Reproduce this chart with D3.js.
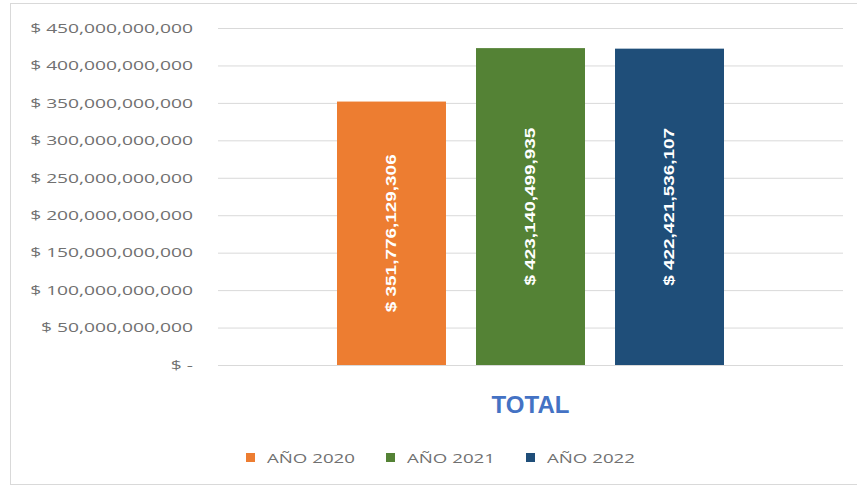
<!DOCTYPE html>
<html>
<head>
<meta charset="utf-8">
<script src="https://cdn.jsdelivr.net/npm/d3@7"></script>
<style>
  html, body { margin: 0; padding: 0; background: #ffffff; }
  svg { display: block; }
</style>
</head>
<body>
<svg id="chart" width="857" height="487"></svg>
<script>
// Chart data
const categories = ["TOTAL"];
const seriesNames = ["AÑO 2020", "AÑO 2021", "AÑO 2022"];
const seriesValues = [351776129306, 423140499935, 422421536107];
const seriesColors = ["#ED7D31", "#548235", "#1F4E79"];
const yTicks = [0, 50e9, 100e9, 150e9, 200e9, 250e9, 300e9, 350e9, 400e9, 450e9];

const svg = d3.select("#chart");
const W = 857, H = 487;
const plot = { left: 218, right: 843, top: 28, bottom: 365 };

// Chart area frame
svg.append("rect")
  .attr("x", 10.5).attr("y", 3.5)
  .attr("width", W).attr("height", 481)
  .attr("fill", "#ffffff")
  .attr("stroke", "#D9D9D9").attr("stroke-width", 1);

const y = d3.scaleLinear().domain([0, 450e9]).range([plot.bottom, plot.top]);
const x = d3.scaleBand().domain(categories).range([plot.left, plot.right])
  .paddingInner(0).paddingOuter(0.3075);
const xs = d3.scaleBand().domain(seriesNames).range([0, x.bandwidth()])
  .paddingInner(0.216).paddingOuter(0);

const money = d3.format(",");
const tickFmt = v => v === 0 ? "$ -" : "$ " + money(v);

// Gridlines and value axis labels
const yAxis = d3.axisLeft(y).tickValues(yTicks)
  .tickSize(-(plot.right - plot.left)).tickFormat(tickFmt).tickPadding(25);
const gAxis = svg.append("g").attr("transform", `translate(${plot.left},0)`).call(yAxis);
gAxis.select(".domain").remove();
gAxis.selectAll(".tick line").attr("stroke", "#D9D9D9").attr("stroke-width", 1);
gAxis.selectAll(".tick text")
  .attr("fill", "#707070")
  .style("font-family", "'Open Sans', 'Liberation Sans', sans-serif")
  .style("font-size", "13.5px");

// Widen tick labels horizontally to the chart's letterform proportions
(function () {
  const texts = gAxis.selectAll(".tick text").nodes();
  const widest = d3.max(texts, n => n.getComputedTextLength());
  const sx = 163 / widest;
  texts.forEach(n => {
    const t = d3.select(n);
    const tx = +t.attr("x");
    t.attr("x", null).attr("transform", `translate(${tx},0) scale(${sx},1)`);
  });
})();

// Bars
const data = seriesNames.map((s, i) => ({ series: s, value: seriesValues[i], color: seriesColors[i] }));
const gBars = svg.append("g").attr("transform", `translate(${x("TOTAL")},0)`);
gBars.selectAll("rect").data(data).join("rect")
  .attr("x", d => xs(d.series))
  .attr("y", d => y(d.value))
  .attr("width", xs.bandwidth())
  .attr("height", d => y(0) - y(d.value))
  .attr("fill", d => d.color);

// Value labels, rotated, centered in each bar
const labels = gBars.selectAll("text.val").data(data).join("text")
  .attr("class", "val")
  .attr("text-anchor", "middle")
  .attr("dominant-baseline", "central")
  .attr("fill", "#ffffff")
  .style("font-family", "'Liberation Sans', Arial, sans-serif")
  .style("font-weight", "bold")
  .style("font-size", "15px")
  .text(d => "$ " + money(d.value));
labels.each(function (d) {
  const len = this.getComputedTextLength();
  const sx = 158 / len;
  const cx = xs(d.series) + xs.bandwidth() / 2;
  const cy = (y(d.value) + y(0)) / 2;
  d3.select(this).attr("transform", `translate(${cx},${cy}) rotate(-90) scale(${sx},1)`);
});

// Category title
svg.append("text")
  .attr("x", x("TOTAL") + x.bandwidth() / 2)
  .attr("y", 413)
  .attr("text-anchor", "middle")
  .attr("fill", "#4472C4")
  .style("font-family", "'Liberation Sans', Arial, sans-serif")
  .style("font-weight", "bold")
  .style("font-size", "24px")
  .text(categories[0]);

// Legend
const legendX = [246, 386, 526];
const gLeg = svg.append("g");
data.forEach((d, i) => {
  gLeg.append("rect")
    .attr("x", legendX[i]).attr("y", 453)
    .attr("width", 9).attr("height", 9)
    .attr("fill", d.color);
  const t = gLeg.append("text")
    .attr("y", 0)
    .attr("dominant-baseline", "central")
    .attr("fill", "#707070")
    .style("font-family", "'Open Sans', 'Liberation Sans', sans-serif")
    .style("font-size", "13.5px")
    .text(d.series);
  const sx = 88 / t.node().getComputedTextLength();
  t.attr("transform", `translate(${legendX[i] + 21},458) scale(${sx},1)`);
});
</script>
</body>
</html>
